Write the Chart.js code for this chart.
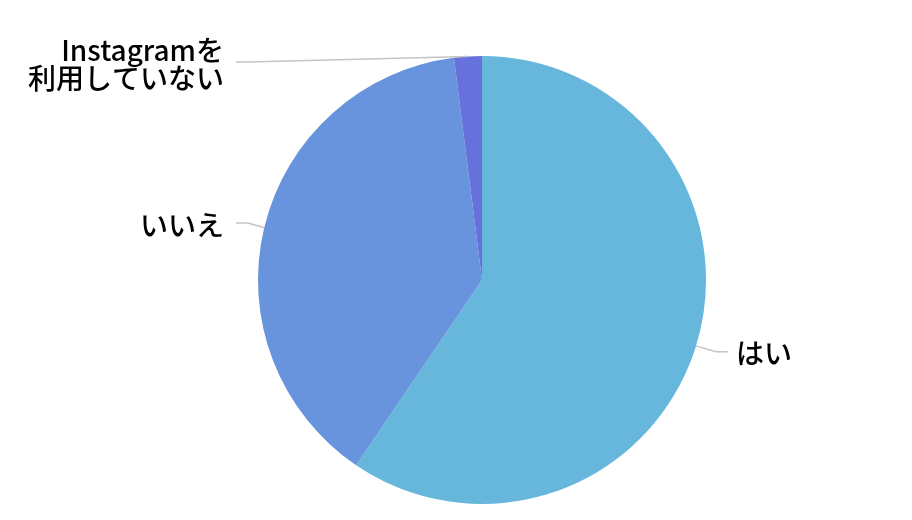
<!DOCTYPE html>
<html>
<head>
<meta charset="utf-8">
<script src="https://cdn.jsdelivr.net/npm/chart.js@4"></script>
<style>
  html, body { margin: 0; padding: 0; background: #fff; }
  #wrap { width: 912px; height: 520px; }
</style>
</head>
<body>
<div id="wrap"><canvas id="pieChart"></canvas></div>
<script>
let categories = ["はい", "いいえ", "Instagramを\n利用していない"];
let answerShares = [59.5, 38.5, 2.0];
let sliceColors = ["#67b7dc", "#6794dc", "#6771dc"];

// draw outside labels with little tick lines, like the original
let outsideLabels = {
    id: "outsideLabels",
    afterDraw(chart){
        let ctx = chart.ctx;
        let arcs = chart.getDatasetMeta(0).data;
        ctx.save();
        ctx.font = "500 28px 'Noto Sans CJK JP', 'Noto Sans', sans-serif";
        ctx.textBaseline = "middle";
        for(let i = 0; i < arcs.length; i++){
            let p = arcs[i].getProps(["x", "y", "startAngle", "endAngle", "outerRadius"], true);
            let mid = (p.startAngle + p.endAngle) / 2;
            let r = p.outerRadius;
            let ex = p.x + r * Math.cos(mid);
            let ey = p.y + r * Math.sin(mid);
            let lines = chart.data.labels[i].split("\n");
            let lineH = 28;
            let blockH = lines.length * lineH;
            let ly = p.y + (r + 20) * Math.sin(mid);
            if(ly < 36 + blockH / 2){
                ly = 36 + blockH / 2 - 2;
            }
            let right = Math.cos(mid) >= 0;
            let colX = right ? p.x + r + 22 : p.x - r - 22;
            let bendX = right ? colX - 12 : colX + 12;

            ctx.strokeStyle = "#c4c4c4";
            ctx.lineWidth = 1.5;
            ctx.beginPath();
            ctx.moveTo(ex, ey);
            ctx.lineTo(bendX, ly);
            ctx.lineTo(colX, ly);
            ctx.stroke();

            ctx.fillStyle = "#000";
            ctx.textAlign = right ? "left" : "right";
            let tx = right ? colX + 8 : colX - 12;
            let ty = ly + 2 - (lines.length - 1) * lineH / 2;
            for(let j = 0; j < lines.length; j++){
                ctx.fillText(lines[j], tx, ty + j * lineH);
            }
        }
        ctx.restore();
    }
};

let pieChart = new Chart(document.getElementById("pieChart"),
    {
        type: "pie",
        data: {
            labels: categories,
            datasets: [{
                data: answerShares,
                backgroundColor: sliceColors,
                borderColor: sliceColors,
                borderWidth: 0
            }]
        },
        options: {
            responsive: true,
            maintainAspectRatio: false,
            animation: false,
            layout: {
                padding: { top: 56, bottom: 16, left: 258, right: 206 }
            },
            plugins: {
                legend: { display: false },
                tooltip: { enabled: false }
            }
        },
        plugins: [outsideLabels]
    }
);
</script>
</body>
</html>
